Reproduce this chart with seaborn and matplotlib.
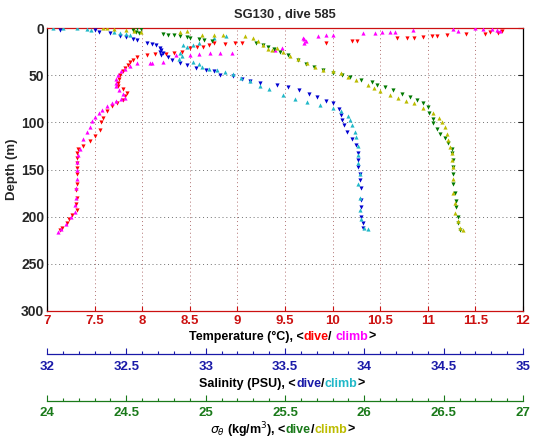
import numpy as np
import pandas as pd
import matplotlib
matplotlib.use('Agg')
import matplotlib.pyplot as plt
import seaborn as sns

# (value, depth m) pairs
temp_dive = [(11.78, 3), (11.74, 5), (11.65, 4), (11.6, 6), (11.4, 6), (11.2, 7), (11.1, 8), (11.04, 8),
             (10.95, 9.5), (10.85, 10.5), (10.78, 10.5), (10.68, 11), (10.26, 14), (10.2, 14), (9.93, 16),
             (9.05, 16), (8.97, 16), (8.87, 17), (8.75, 16), (8.7, 18), (8.64, 20), (8.58, 20), (8.5, 21),
             (8.42, 25), (8.33, 27), (8.25, 28), (8.13, 28), (8.05, 29), (7.95, 31), (7.9, 34), (7.87, 36),
             (7.85, 39), (7.82, 42), (7.8, 46), (7.77, 50), (7.76, 54), (7.75, 58), (7.75, 62), (7.8, 65),
             (7.84, 69), (7.82, 72), (7.8, 76), (7.74, 79), (7.68, 83), (7.63, 88), (7.59, 95), (7.57, 100),
             (7.56, 108), (7.5, 114), (7.45, 120), (7.38, 125), (7.33, 128), (7.31, 133), (7.31, 138),
             (7.32, 143), (7.31, 148), (7.32, 155), (7.31, 165), (7.3, 172), (7.31, 180), (7.3, 187),
             (7.31, 193), (7.26, 198), (7.23, 203), (7.21, 207), (7.16, 212), (7.14, 214)]
temp_climb = [(7.12, 216), (7.15, 213), (7.2, 208), (7.25, 200), (7.29, 195), (7.29, 188), (7.3, 180),
              (7.3, 170), (7.31, 160), (7.31, 150), (7.32, 142), (7.33, 135), (7.35, 128), (7.38, 118),
              (7.42, 110), (7.45, 105), (7.47, 99), (7.5, 94), (7.55, 90), (7.58, 87), (7.63, 83), (7.68, 80),
              (7.72, 77), (7.78, 75), (7.82, 74), (7.8, 70), (7.76, 66), (7.73, 62), (7.72, 58), (7.73, 54),
              (7.75, 50), (7.78, 46), (7.82, 43), (7.87, 40), (7.95, 37), (8.1, 37), (8.22, 36), (8.08, 37),
              (8.36, 29), (8.5, 29), (8.6, 28), (8.71, 27), (8.82, 27), (8.94, 26), (9.4, 23), (9.47, 21),
              (9.7, 16), (9.72, 14), (9.69, 11), (9.7, 12), (9.85, 8), (9.93, 7), (10.0, 7), (10.32, 5.5),
              (10.45, 5), (10.52, 4), (10.6, 4), (10.66, 4), (10.84, 2.5), (11.26, 1), (11.32, 3), (11.5, 0.5),
              (11.58, 1), (11.67, 1), (11.73, 2), (11.76, 3)]
sal_dive = [(32.08, 2), (32.3, 2), (32.33, 4), (32.4, 5.5), (32.46, 9), (32.5, 10), (32.54, 12), (32.57, 13),
            (32.63, 16), (32.66, 17), (32.69, 18), (32.71, 21), (32.72, 23), (32.71, 25), (32.73, 27),
            (32.72, 29), (32.76, 31), (32.79, 34), (32.84, 37), (32.88, 39), (32.94, 42), (33.0, 45),
            (33.05, 46), (33.09, 50), (33.17, 51), (33.23, 54), (33.28, 56), (33.34, 58), (33.45, 60),
            (33.52, 63), (33.59, 66), (33.65, 70), (33.7, 73), (33.76, 77), (33.8, 80), (33.84, 86),
            (33.85, 92), (33.86, 98), (33.87, 103), (33.89, 110), (33.92, 118), (33.95, 124), (33.96, 132),
            (33.96, 140), (33.96, 147), (33.97, 155), (33.97, 161), (33.98, 170), (33.98, 182), (33.98, 190),
            (33.98, 200), (33.99, 207), (33.99, 212)]
sal_climb = [(32.04, 0), (32.1, 0.5), (32.19, 0), (32.25, 1), (32.28, 2), (32.42, 4), (32.46, 5), (32.5, 6),
             (32.52, 7), (32.84, 27), (32.85, 30), (32.83, 33), (32.86, 18), (32.88, 20), (32.92, 18),
             (32.96, 16), (33.05, 11), (33.13, 9), (32.92, 36), (32.96, 38), (32.98, 41), (33.02, 43),
             (33.07, 45), (33.12, 47), (33.17, 49), (33.22, 53), (33.28, 56), (33.34, 62), (33.4, 65),
             (33.49, 71), (33.56, 75), (33.64, 78), (33.72, 82), (33.8, 85), (33.85, 88), (33.9, 93),
             (33.91, 98), (33.92, 103), (33.94, 110), (33.95, 116), (33.96, 125), (33.96, 135), (33.96, 143),
             (33.97, 155), (33.96, 165), (33.97, 180), (33.97, 193), (33.98, 203), (34.0, 212), (34.02, 213)]
sig_dive = [(24.54, 2), (24.57, 0), (24.59, 1), (24.56, 4), (24.58, 5), (24.73, 6), (24.76, 7), (24.8, 7),
            (24.84, 9), (24.88, 10), (24.9, 11), (24.96, 12), (24.99, 13), (25.04, 14), (25.32, 16),
            (25.36, 18), (25.39, 20), (25.43, 22), (25.47, 25), (25.52, 29), (25.58, 34), (25.63, 38),
            (25.68, 41), (25.74, 45), (25.8, 48), (25.86, 50), (25.91, 52), (25.98, 55), (26.05, 57),
            (26.08, 60), (26.13, 63), (26.18, 66), (26.24, 70), (26.29, 73), (26.33, 76), (26.37, 79),
            (26.4, 84), (26.41, 90), (26.43, 96), (26.43, 101), (26.46, 107), (26.48, 112), (26.51, 117),
            (26.53, 122), (26.55, 128), (26.55, 133), (26.56, 140), (26.56, 147), (26.56, 155), (26.56, 165),
            (26.57, 175), (26.58, 183), (26.58, 190), (26.59, 200), (26.59, 207), (26.6, 214)]
sig_climb = [(24.35, 0), (24.38, 0), (24.42, 1), (24.5, 2), (24.55, 3), (24.59, 4), (24.84, 4), (24.88, 3),
             (24.98, 7), (25.05, 7), (25.11, 7), (25.25, 9), (25.3, 11), (25.33, 14), (25.36, 18), (25.39, 22),
             (25.42, 23), (25.45, 21), (25.49, 25), (25.53, 30), (25.58, 33), (25.64, 37), (25.69, 41),
             (25.74, 44), (25.8, 46), (25.85, 48), (25.9, 52), (25.95, 55), (26.02, 60), (26.06, 64),
             (26.1, 67), (26.16, 71), (26.21, 74), (26.26, 77), (26.31, 80), (26.37, 85), (26.43, 90),
             (26.47, 95), (26.49, 100), (26.51, 105), (26.52, 112), (26.53, 119), (26.54, 126), (26.55, 133),
             (26.55, 140), (26.56, 147), (26.56, 160), (26.56, 175), (26.57, 185), (26.57, 196), (26.59, 205),
             (26.6, 212), (26.62, 214)]

temp_ticks = np.arange(7, 12.01, 0.5)
sal_ticks = np.arange(32, 35.01, 0.5)
sig_ticks = np.arange(24, 27.01, 0.5)
depth_ticks = np.arange(0, 301, 50)

RED, MAG = '#ff0000', '#ff00ff'
BLUE, CYAN = '#0000d0', '#20b8c8'
GREEN, OLIVE = '#007800', '#bcbc00'
RED_AX, BLUE_AX, GREEN_AX = '#cc1111', '#1a1aa8', '#1a7a1a'

sns.set_style('white')
plt.rcParams['font.family'] = ['Liberation Sans', 'DejaVu Sans']
plt.rcParams['mathtext.fontset'] = 'dejavusans'

W, H = 535, 442
fig = plt.figure(figsize=(W / 100, H / 100), dpi=100)
ax = fig.add_axes([47 / W, 1 - 311 / H, (523 - 47) / W, (311 - 28) / H])


def to_df(pairs):
    return pd.DataFrame(pairs, columns=['value', 'depth'])


def scatter(axis, pairs, color, marker):
    sns.scatterplot(data=to_df(pairs), x='value', y='depth', ax=axis, color=color,
                    marker=marker, s=9, linewidth=0, legend=False, zorder=3)


scatter(ax, temp_dive, RED, 'v')
scatter(ax, temp_climb, MAG, '^')
ax.set_xlim(7, 12)
ax.set_ylim(300, 0)
ax.set_xticks(temp_ticks)
ax.set_xticklabels(['%g' % t for t in temp_ticks], fontweight='bold', fontsize=9.5)
ax.set_yticks(depth_ticks)
ax.set_yticklabels([str(d) for d in depth_ticks], fontweight='bold', fontsize=10)
ax.tick_params(axis='x', direction='in', top=True, colors=RED_AX, length=3.5, width=0.8, pad=3)
ax.tick_params(axis='y', direction='in', right=True, length=3.5, width=0.8, pad=2)
ax.grid(True, axis='x', linestyle=(0, (1, 3)), color='#b07070', lw=0.7)
ax.grid(True, axis='y', linestyle=(0, (1, 3)), color='#707070', lw=0.7)
for side in ['bottom', 'top']:
    ax.spines[side].set_color(RED_AX)
for side in ['left', 'right']:
    ax.spines[side].set_color('black')
for sp in ax.spines.values():
    sp.set_linewidth(0.9)
ax.set_xlabel('')
ax.set_ylabel('Depth (m)', fontweight='bold', fontsize=9.5, labelpad=2)
ax.set_title('SG130 , dive 585', fontweight='bold', fontsize=9.3, pad=7)


def extra_axis(lims, ticks, pairs_dive, pairs_climb, cdive, cclimb, axcolor, offset_pt, pad):
    tw = ax.twiny()
    scatter(tw, pairs_dive, cdive, 'v')
    scatter(tw, pairs_climb, cclimb, '^')
    tw.set_xlim(*lims)
    tw.set_ylim(300, 0)
    tw.set_xlabel('')
    tw.set_ylabel('')
    tw.xaxis.set_ticks_position('bottom')
    tw.xaxis.set_label_position('bottom')
    for side in ['top', 'left', 'right']:
        tw.spines[side].set_visible(False)
    tw.spines['bottom'].set_position(('outward', offset_pt))
    tw.spines['bottom'].set_color(axcolor)
    tw.spines['bottom'].set_linewidth(0.9)
    tw.set_xticks(ticks)
    tw.set_xticklabels(['%g' % t for t in ticks], fontweight='bold', fontsize=9.5)
    tw.set_xticks(np.arange(lims[0], lims[1] + 0.01, 0.1), minor=True)
    tw.tick_params(axis='x', which='major', direction='in', colors=axcolor, length=4, width=0.8, pad=pad)
    tw.tick_params(axis='x', which='minor', direction='in', colors=axcolor, length=2, width=0.8)
    tw.tick_params(axis='y', left=False, right=False, labelleft=False, labelright=False)
    return tw


extra_axis((32, 35), sal_ticks, sal_dive, sal_climb, BLUE, CYAN, BLUE_AX, 31, 5)
extra_axis((24, 27), sig_ticks, sig_dive, sig_climb, GREEN, OLIVE, GREEN_AX, 64.5, 4.5)


def colored_label(y_px, parts, cx_px=282, size=9):
    renderer = fig.canvas.get_renderer()
    texts, widths = [], []
    for s, c in parts:
        t = fig.text(0, 1 - y_px / H, s, color=c, fontsize=size, fontweight='bold', ha='left', va='center')
        texts.append(t)
        widths.append(t.get_window_extent(renderer).width)
    x = cx_px - sum(widths) / 2
    for t, w in zip(texts, widths):
        t.set_x(x / W)
        x += w


colored_label(337, [('Temperature (°C), <', 'black'), ('dive', RED), ('/ ', 'black'),
                    ('climb', MAG), ('>', 'black')])
colored_label(384, [('Salinity (PSU), <', 'black'), ('dive', BLUE_AX), ('/', 'black'),
                    ('climb', CYAN), ('>', 'black')])
colored_label(430, [(r'$\sigma_\theta$ (kg/m$^3$), <', 'black'), ('dive', GREEN_AX), ('/', 'black'),
                    ('climb', OLIVE), ('>', 'black')])

fig.savefig('out.png', dpi=100)
